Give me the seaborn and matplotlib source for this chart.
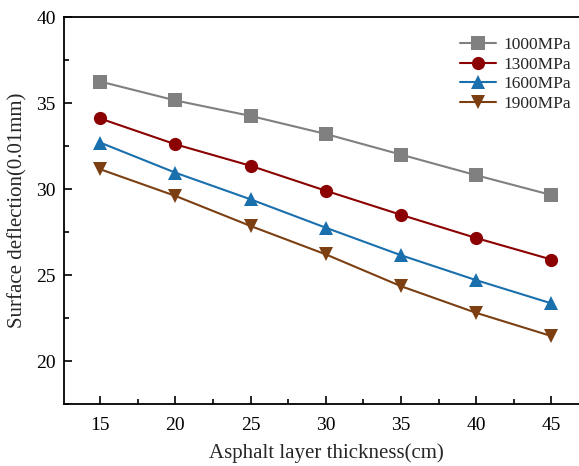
import numpy as np
import pandas as pd
import seaborn as sns
import matplotlib
matplotlib.use("Agg")
import matplotlib.pyplot as plt
from matplotlib.ticker import MultipleLocator

thickness = [15, 20, 25, 30, 35, 40, 45]
d1000 = [36.25, 35.15, 34.25, 33.2, 32.0, 30.8, 29.65]
d1300 = [34.1, 32.6, 31.35, 29.9, 28.5, 27.15, 25.9]
d1600 = [32.7, 30.95, 29.4, 27.75, 26.15, 24.7, 23.35]
d1900 = [31.15, 29.6, 27.85, 26.2, 24.35, 22.8, 21.45]
series_names = ["1000MPa", "1300MPa", "1600MPa", "1900MPa"]

rows = []
for name, vals in zip(series_names, [d1000, d1300, d1600, d1900]):
    for t, v in zip(thickness, vals):
        rows.append({"thickness": t, "deflection": v, "modulus": name})
df = pd.DataFrame(rows)

sns.set_style("ticks")
plt.rcParams['font.family'] = ['Liberation Serif', 'DejaVu Serif']
plt.rcParams['mathtext.fontset'] = 'stix'

colors = ["#808080", "#8B0000", "#1A6FAD", "#7B3F12"]
markers = ["s", "o", "^", "v"]

fig = plt.figure(figsize=(5.79, 4.66), dpi=100)
ax = fig.add_axes([64/579, 1-404/466, (589-64)/579, (404-17)/466])

sns.lineplot(data=df, x="thickness", y="deflection", hue="modulus", style="modulus",
             palette=colors, markers=markers, dashes=False, markersize=9.5,
             markeredgewidth=0, linewidth=1.5, ax=ax)

ax.set_xlim(12.6, 47.5)
ax.set_ylim(17.5, 40)
ax.xaxis.set_major_locator(MultipleLocator(5))
ax.xaxis.set_minor_locator(MultipleLocator(2.5))
ax.yaxis.set_major_locator(MultipleLocator(5))
ax.yaxis.set_minor_locator(MultipleLocator(2.5))
ax.set_xticks([15, 20, 25, 30, 35, 40, 45])
ax.tick_params(which='both', direction='in', length=6, width=1.2, labelsize=14, colors='black')
ax.tick_params(axis='x', pad=9)
ax.tick_params(axis='y', pad=6)
ax.tick_params(which='minor', length=3.5)
for s in ax.spines.values():
    s.set_linewidth(1.3)
    s.set_color('black')

ax.set_xlabel("Asphalt layer thickness(cm)", fontsize=15, labelpad=7)
ax.set_ylabel("Surface deflection(0.01mm)", fontsize=15, labelpad=6)

leg = ax.legend(loc='upper left', bbox_to_anchor=((460-64)/525, 1-(37-17)/387), frameon=False,
                fontsize=12.5, handlelength=2.1, handletextpad=0.4, labelspacing=0.2,
                borderpad=0, borderaxespad=0)

fig.savefig("out.png", dpi=100)
